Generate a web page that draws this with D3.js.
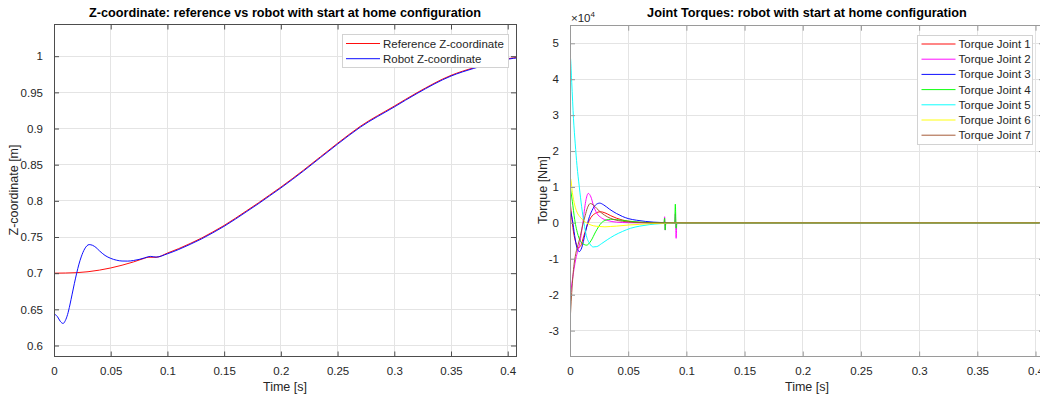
<!DOCTYPE html>
<html>
<head>
<meta charset="utf-8">
<script src="https://cdn.jsdelivr.net/npm/d3@7"></script>
<style>
  body { margin: 0; background: #fff; }
  svg { display: block; font-family: "Liberation Sans", Arial, sans-serif; }
</style>
</head>
<body>
<svg id="chart" width="1040" height="394"></svg>
<script>
// ---- Time axis ticks (shared by both panels) ----
const timeTicks = [0, 0.05, 0.1, 0.15, 0.2, 0.25, 0.3, 0.35, 0.4];
const timeTickLabels = ["0", "0.05", "0.1", "0.15", "0.2", "0.25", "0.3", "0.35", "0.4"];

// ---- Z-coordinate panel ----
const zTicks = [0.6, 0.65, 0.7, 0.75, 0.8, 0.85, 0.9, 0.95, 1];
const zTickLabels = ["0.6", "0.65", "0.7", "0.75", "0.8", "0.85", "0.9", "0.95", "1"];

// reference trajectory [time s, z m]
const referenceZ = [
  [0, 0.700], [0.01, 0.7002], [0.02, 0.7007], [0.03, 0.702], [0.04, 0.7042],
  [0.05, 0.7072], [0.06, 0.711], [0.07, 0.7155], [0.08, 0.7207], [0.083, 0.722],
  [0.09, 0.722], [0.1, 0.7278], [0.11, 0.734], [0.12, 0.741], [0.13, 0.7485],
  [0.14, 0.757], [0.15, 0.766], [0.16, 0.776], [0.17, 0.7865], [0.18, 0.797],
  [0.19, 0.808], [0.2, 0.819], [0.22, 0.8425], [0.25, 0.8796], [0.27, 0.903],
  [0.3, 0.931], [0.32, 0.9495], [0.35, 0.9735], [0.37, 0.984], [0.39, 0.9925],
  [0.4, 0.9965], [0.41, 0.9985]
];

// robot end-effector z [time s, z m]
const robotZ = [
  [0, 0.6438], [0.003, 0.640], [0.0055, 0.6335], [0.008, 0.6305], [0.010, 0.6345],
  [0.012, 0.643], [0.014, 0.656], [0.016, 0.671], [0.018, 0.686], [0.020, 0.700],
  [0.022, 0.7125], [0.024, 0.7225], [0.027, 0.7335], [0.031, 0.7395], [0.034, 0.7385],
  [0.037, 0.7355], [0.040, 0.731], [0.045, 0.7245], [0.050, 0.7205], [0.055, 0.718],
  [0.060, 0.7168], [0.065, 0.7167], [0.070, 0.7175], [0.075, 0.719], [0.080, 0.7212],
  [0.085, 0.7232], [0.090, 0.7222], [0.1, 0.7268], [0.11, 0.7328], [0.12, 0.7398],
  [0.13, 0.7473], [0.14, 0.7558], [0.15, 0.7648], [0.16, 0.7748], [0.17, 0.7853],
  [0.18, 0.7958], [0.19, 0.8068], [0.2, 0.8178], [0.22, 0.8413], [0.25, 0.8784],
  [0.27, 0.9018], [0.3, 0.9298], [0.32, 0.9484], [0.35, 0.9725], [0.37, 0.9831],
  [0.39, 0.9917], [0.4, 0.9958], [0.41, 0.9979]
];

const zSeriesNames = ["Reference Z-coordinate", "Robot Z-coordinate"];
const zSeriesColors = ["#ff0000", "#0000ff"];

// ---- Joint torque panel [time s, torque Nm] ----
const torqueTicks = [-30000, -20000, -10000, 0, 10000, 20000, 30000, 40000, 50000];
const torqueTickLabels = ["-3", "-2", "-1", "0", "1", "2", "3", "4", "5"];

const torqueJoint1 = [
  [0, 6300], [0.001, 3000], [0.003, -2500], [0.005, -5500], [0.007, -6900],
  [0.009, -6500], [0.012, -3500], [0.015, -500], [0.018, 1500], [0.022, 2700],
  [0.026, 3100], [0.030, 2800], [0.035, 2000], [0.040, 1300], [0.045, 800],
  [0.050, 450], [0.060, 150], [0.070, 50], [0.080, 0], [0.41, 0]
];
const torqueJoint2 = [
  [0, -21000], [0.002, -16000], [0.005, -10000], [0.0085, -5500], [0.011, 0],
  [0.0135, 6000], [0.0157, 8200], [0.018, 7200], [0.020, 5000], [0.023, 2700],
  [0.027, 1400], [0.032, 700], [0.040, 200], [0.050, 50], [0.060, 0],
  [0.0808, 0], [0.0813, 1700], [0.0818, -2000], [0.0823, 0], [0.0900, 0],
  [0.0905, 2600], [0.0912, -4300], [0.0918, 0], [0.41, 0]
];
const torqueJoint3 = [
  [0, 4000], [0.002, 1000], [0.004, -3500], [0.006, -7000], [0.008, -8000],
  [0.010, -7000], [0.013, -3000], [0.016, 1000], [0.019, 3500], [0.022, 5000],
  [0.0255, 5500], [0.029, 5000], [0.034, 3800], [0.040, 2600], [0.045, 1800],
  [0.050, 1200], [0.057, 750], [0.065, 400], [0.072, 200], [0.080, 80],
  [0.090, 30], [0.1, 0], [0.41, 0]
];
const torqueJoint4 = [
  [0, 10500], [0.002, 6000], [0.004, 1000], [0.007, -3500], [0.010, -5500],
  [0.0143, -6200], [0.018, -5000], [0.022, -2500], [0.027, 0], [0.031, 800],
  [0.035, 1000], [0.040, 900], [0.050, 500], [0.060, 200], [0.070, 50],
  [0.0808, 0], [0.0813, 1300], [0.0818, -2000], [0.0823, 0], [0.0900, 0],
  [0.0905, 5200], [0.0912, -1500], [0.0918, 0], [0.41, 0]
];
const torqueJoint5 = [
  [0, 0], [0.0003, 46000], [0.0015, 39000], [0.003, 29000], [0.0045, 22000],
  [0.006, 16000], [0.008, 10000], [0.010, 4500], [0.012, 0], [0.014, -3500],
  [0.017, -5800], [0.020, -6700], [0.023, -6600], [0.027, -5800], [0.032, -4700],
  [0.038, -3500], [0.045, -2400], [0.052, -1500], [0.060, -900], [0.068, -500],
  [0.078, -200], [0.090, -50], [0.1, 0], [0.41, 0]
];
const torqueJoint6 = [
  [0, 0], [0.0005, 12300], [0.002, 8500], [0.004, 5000], [0.006, 3000],
  [0.009, 1500], [0.012, 500], [0.016, -300], [0.020, -800], [0.025, -1000],
  [0.030, -1100], [0.035, -1000], [0.040, -900], [0.050, -600], [0.060, -400],
  [0.070, -200], [0.080, -100], [0.090, 0], [0.41, 0]
];
const torqueJoint7 = [
  [0, -28000], [0.001, -22000], [0.003, -13000], [0.005, -8500], [0.007, -6000],
  [0.009, -3500], [0.011, -500], [0.013, 2000], [0.015, 4200], [0.0175, 5400],
  [0.020, 5000], [0.023, 4000], [0.027, 2800], [0.032, 1700], [0.038, 900],
  [0.045, 450], [0.055, 150], [0.065, 50], [0.080, 0], [0.41, 0]
];

const torqueSeries = [torqueJoint1, torqueJoint2, torqueJoint3, torqueJoint4,
                      torqueJoint5, torqueJoint6, torqueJoint7];
const torqueNames = ["Torque Joint 1", "Torque Joint 2", "Torque Joint 3", "Torque Joint 4",
                     "Torque Joint 5", "Torque Joint 6", "Torque Joint 7"];
const torqueColors = ["#ff0000", "#ff00ff", "#0000ff", "#00ff00", "#00ffff", "#ffff00", "#a0522d"];

// ---------------------------------------------------------------
const svg = d3.select("#chart");
svg.append("rect").attr("width", 1040).attr("height", 394).attr("fill", "#fff");

const TEXT = "#262626";
const GRID = "#e4e4e4";
const LINE_W = 0.95;

function drawPanel(cfg) {
  const { left, right, top, bottom, xDomain, yDomain, yTicks, yTickLabels, boxColor, id } = cfg;
  const x = d3.scaleLinear().domain(xDomain).range([left, right]);
  const y = d3.scaleLinear().domain(yDomain).range([bottom, top]);
  const g = svg.append("g");

  // grid
  g.append("g").selectAll("line").data(timeTicks).join("line")
    .attr("x1", d => x(d)).attr("x2", d => x(d)).attr("y1", top).attr("y2", bottom)
    .attr("stroke", GRID).attr("stroke-width", 1).attr("shape-rendering", "crispEdges");
  g.append("g").selectAll("line").data(yTicks).join("line")
    .attr("x1", left).attr("x2", right).attr("y1", d => y(d)).attr("y2", d => y(d))
    .attr("stroke", GRID).attr("stroke-width", 1).attr("shape-rendering", "crispEdges");

  // clip for data
  svg.append("clipPath").attr("id", id)
    .append("rect").attr("x", left).attr("y", top).attr("width", right - left).attr("height", bottom - top);
  const plot = g.append("g").attr("clip-path", `url(#${id})`);

  // axes with inward ticks on all four sides
  const tickLen = 5;
  const xAxisB = d3.axisBottom(x).tickValues(timeTicks).tickSizeInner(-tickLen).tickSizeOuter(0)
    .tickFormat((d, i) => timeTickLabels[i]).tickPadding(10);
  const xAxisT = d3.axisTop(x).tickValues(timeTicks).tickSizeInner(-tickLen).tickSizeOuter(0).tickFormat("");
  const yAxisL = d3.axisLeft(y).tickValues(yTicks).tickSizeInner(-tickLen).tickSizeOuter(0)
    .tickFormat((d, i) => yTickLabels[i]).tickPadding(11);
  const yAxisR = d3.axisRight(y).tickValues(yTicks).tickSizeInner(-tickLen).tickSizeOuter(0).tickFormat("");

  const axes = [
    g.append("g").attr("transform", `translate(0,${bottom})`).call(xAxisB),
    g.append("g").attr("transform", `translate(0,${top})`).call(xAxisT),
    g.append("g").attr("transform", `translate(${left},0)`).call(yAxisL),
    g.append("g").attr("transform", `translate(${right},0)`).call(yAxisR)
  ];
  axes.forEach(a => {
    a.select(".domain").remove();
    a.selectAll(".tick line").attr("stroke", boxColor);
    a.selectAll(".tick text").attr("fill", TEXT).style("font-size", "11.5px")
      .style("font-family", "'Liberation Sans', Arial, sans-serif");
  });

  // box
  g.append("rect").attr("x", left).attr("y", top).attr("width", right - left).attr("height", bottom - top)
    .attr("fill", "none").attr("stroke", boxColor).attr("stroke-width", 1).attr("shape-rendering", "crispEdges");

  return { x, y, g, plot };
}

function drawLegend(g, x0, y0, w, names, colors) {
  const rowH = 15.2;
  const h = names.length * rowH + 3;
  g.append("rect").attr("x", x0).attr("y", y0).attr("width", w).attr("height", h)
    .attr("fill", "#fff").attr("stroke", "#d2d2d2").attr("stroke-width", 1).attr("shape-rendering", "crispEdges");
  names.forEach((n, i) => {
    const cy = y0 + 9 + i * rowH;
    g.append("line").attr("x1", x0 + 4).attr("x2", x0 + 38).attr("y1", cy).attr("y2", cy)
      .attr("stroke", colors[i]).attr("stroke-width", LINE_W);
    g.append("text").attr("x", x0 + 41).attr("y", cy + 4).attr("fill", TEXT)
      .style("font-size", "11.5px").text(n);
  });
}

// ---- left panel: Z-coordinate ----
const P1 = drawPanel({
  id: "clipZ", left: 54, right: 516, top: 24.5, bottom: 356.5,
  xDomain: [0, 0.4073], yDomain: [0.5848, 1.0438],
  yTicks: zTicks, yTickLabels: zTickLabels, boxColor: "#4d4d4d"
});
const zLine = d3.line().x(d => P1.x(d[0])).y(d => P1.y(d[1])).curve(d3.curveMonotoneX);
[referenceZ, robotZ].forEach((s, i) => {
  P1.plot.append("path").datum(s).attr("d", zLine).attr("fill", "none")
    .attr("stroke", zSeriesColors[i]).attr("stroke-width", LINE_W);
});
svg.append("text").attr("x", 285).attr("y", 17).attr("text-anchor", "middle")
  .attr("fill", "#000").style("font-size", "12.7px").style("font-weight", "bold")
  .text("Z-coordinate: reference vs robot with start at home configuration");
svg.append("text").attr("x", 285).attr("y", 391).attr("text-anchor", "middle")
  .attr("fill", TEXT).style("font-size", "12.5px").text("Time [s]");
svg.append("text").attr("transform", "translate(18,190) rotate(-90)").attr("text-anchor", "middle")
  .attr("fill", TEXT).style("font-size", "12.5px").text("Z-coordinate [m]");
drawLegend(svg, 342, 34.5, 166, zSeriesNames, zSeriesColors);

// ---- right panel: joint torques ----
const P2 = drawPanel({
  id: "clipT", left: 570, right: 1044, top: 25.7, bottom: 356.5,
  xDomain: [0, 0.4073], yDomain: [-37200, 54900],
  yTicks: torqueTicks, yTickLabels: torqueTickLabels, boxColor: "#9a9a9a"
});
const tLine = d3.line().x(d => P2.x(d[0])).y(d => P2.y(d[1])).curve(d3.curveMonotoneX);
torqueSeries.forEach((s, i) => {
  P2.plot.append("path").datum(s).attr("d", tLine).attr("fill", "none")
    .attr("stroke", torqueColors[i]).attr("stroke-width", LINE_W);
});
svg.append("text").attr("x", 807).attr("y", 17).attr("text-anchor", "middle")
  .attr("fill", "#000").style("font-size", "12.7px").style("font-weight", "bold")
  .text("Joint Torques: robot with start at home configuration");
svg.append("text").attr("x", 807).attr("y", 391).attr("text-anchor", "middle")
  .attr("fill", TEXT).style("font-size", "12.5px").text("Time [s]");
svg.append("text").attr("transform", "translate(547,190) rotate(-90)").attr("text-anchor", "middle")
  .attr("fill", TEXT).style("font-size", "12.5px").text("Torque [Nm]");
// exponent marker for the torque axis
const expo = svg.append("text").attr("x", 571).attr("y", 22).attr("fill", TEXT).style("font-size", "11.5px");
expo.append("tspan").text("\u00d710");
expo.append("tspan").attr("dy", -5).style("font-size", "8px").text("4");
drawLegend(svg, 917.5, 35, 115, torqueNames, torqueColors);
</script>
</body>
</html>
